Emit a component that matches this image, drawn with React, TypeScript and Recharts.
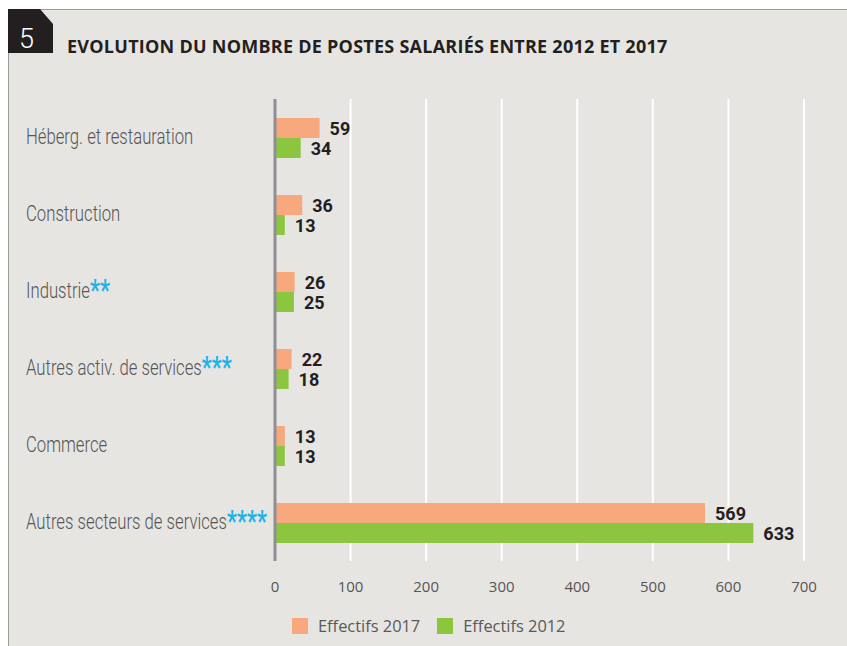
import { BarChart, Bar, XAxis, YAxis, CartesianGrid, LabelList } from 'recharts'

const categories = [
  'Héberg. et restauration',
  'Construction',
  'Industrie',
  'Autres activ. de services',
  'Commerce',
  'Autres secteurs de services',
]
const footnoteStars = ['', '', '**', '***', '', '****']
const effectifs2017 = [59, 36, 26, 22, 13, 569]
const effectifs2012 = [34, 13, 25, 18, 13, 633]
const xTicks = [0, 100, 200, 300, 400, 500, 600, 700]

const data = categories.map((name, i) => ({
  name,
  e2017: effectifs2017[i],
  e2012: effectifs2012[i],
}))

const SALMON = '#f7a87c'
const GREEN = '#8cc63f'
const SANS = "'Open Sans', 'DejaVu Sans', sans-serif"

// the original uses a light condensed face; Roboto Light squeezed horizontally
function CategoryTick(props: any) {
  const { y, payload } = props
  const idx = categories.indexOf(payload.value)
  return (
    <text
      transform={`translate(26,${y + 6}) scale(0.76,1)`}
      fontFamily='Roboto, sans-serif'
      fontWeight={300}
      fontSize={22}
      fill='#555'
    >
      {payload.value}
      {footnoteStars[idx] && (
        <tspan fill='#1fb3e8' fontWeight={700} fontSize={29} dy={2}>
          {footnoteStars[idx]}
        </tspan>
      )}
    </text>
  )
}

function ValueTick(props: any) {
  const { x, y, payload } = props
  return (
    <text x={x} y={y} dy={29} textAnchor='middle' fontFamily={SANS} fontSize={15} fill='#555'>
      {payload.value}
    </text>
  )
}

function ValueLabel(props: any) {
  const { x, y, width, height, value } = props
  return (
    <text
      x={x + width + 10}
      y={y + height / 2}
      dy={6.5}
      fontFamily='Roboto, sans-serif'
      fontWeight={700}
      fontSize={18}
      fill='#231f20'
    >
      {value}
    </text>
  )
}

function LegendItem({ color, label }: { color: string; label: string }) {
  return (
    <div style={{ display: 'flex', alignItems: 'center', marginRight: 17 }}>
      <div style={{ width: 16, height: 16, background: color, marginRight: 10 }} />
      <span style={{ fontFamily: SANS, fontSize: 16.4, color: '#595959' }}>{label}</span>
    </div>
  )
}

export default function App() {
  return (
    <div style={{ position: 'absolute', left: 0, top: 0, width: 847, height: 646, background: '#fff', overflow: 'hidden' }}>
      <div
        style={{
          position: 'absolute',
          left: 8,
          top: 9,
          right: 0,
          bottom: 0,
          background: '#e7e5e2',
          borderTop: '1.5px solid #9c9c9c',
          borderLeft: '1.5px solid #9c9c9c',
        }}
      />
      <svg style={{ position: 'absolute', left: 0, top: 0 }} width={60} height={60}>
        <polygon points='8,9 40,9 53,24 53,53 8,53' fill='#231f20' />
        <text x={19} y={48} fontFamily='Roboto, sans-serif' fontWeight={300} fontSize={27} fill='#fff'>
          5
        </text>
      </svg>
      <div
        style={{
          position: 'absolute',
          left: 67,
          top: 34,
          fontFamily: SANS,
          fontWeight: 700,
          fontSize: 18,
          letterSpacing: 0.25,
          color: '#231f20',
          whiteSpace: 'nowrap',
        }}
      >
        EVOLUTION DU NOMBRE DE POSTES SALARIÉS ENTRE 2012 ET 2017
      </div>
      <div style={{ position: 'absolute', left: 0, top: 0 }}>
        <BarChart
          width={847}
          height={646}
          data={data}
          layout='vertical'
          margin={{ top: 99, right: 43, bottom: 55, left: 0 }}
          barGap={0}
        >
          <CartesianGrid horizontal={false} vertical stroke='#ffffff' strokeWidth={2} />
          <XAxis
            type='number'
            domain={[0, 700]}
            ticks={xTicks}
            axisLine={false}
            tickLine={false}
            tickSize={0}
            height={30}
            tick={<ValueTick />}
            interval={0}
          />
          <YAxis
            type='category'
            dataKey='name'
            width={275}
            axisLine={{ stroke: '#8e8f94', strokeWidth: 3 }}
            tickLine={false}
            tick={<CategoryTick />}
            interval={0}
          />
          <Bar dataKey='e2017' name='Effectifs 2017' fill={SALMON} barSize={20} isAnimationActive={false}>
            <LabelList dataKey='e2017' content={<ValueLabel />} />
          </Bar>
          <Bar dataKey='e2012' name='Effectifs 2012' fill={GREEN} barSize={20} isAnimationActive={false}>
            <LabelList dataKey='e2012' content={<ValueLabel />} />
          </Bar>
        </BarChart>
      </div>
      <div style={{ position: 'absolute', left: 292, top: 614, display: 'flex' }}>
        <LegendItem color={SALMON} label='Effectifs 2017' />
        <LegendItem color={GREEN} label='Effectifs 2012' />
      </div>
    </div>
  )
}
